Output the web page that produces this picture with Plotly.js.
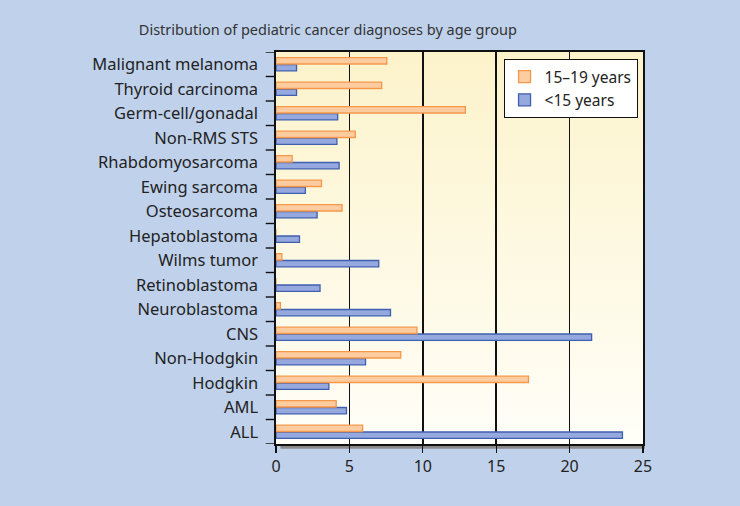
<!DOCTYPE html>
<html><head><meta charset="utf-8">
<script src="https://cdn.plot.ly/plotly-3.0.1.min.js"></script>
<style>html,body{margin:0;padding:0;background:#c0d2eb;}#chart{width:740px;height:506px;}</style>
</head><body><div id="chart"></div>
<script>
const categories = ["ALL","AML","Hodgkin","Non-Hodgkin","CNS","Neuroblastoma","Retinoblastoma","Wilms tumor","Hepatoblastoma","Osteosarcoma","Ewing sarcoma","Rhabdomyosarcoma","Non-RMS STS","Germ-cell/gonadal","Thyroid carcinoma","Malignant melanoma"];
const under15 = [23.6, 4.8, 3.6, 6.1, 21.5, 7.8, 3.0, 7.0, 1.6, 2.8, 2.0, 4.3, 4.15, 4.2, 1.4, 1.4];
const age15to19 = [5.9, 4.1, 17.2, 8.5, 9.6, 0.3, 0, 0.4, 0, 4.5, 3.1, 1.1, 5.4, 12.9, 7.2, 7.55];
const xTicks = [0,5,10,15,20,25];

const gradSvg = '<svg xmlns="http://www.w3.org/2000/svg" width="100" height="100" preserveAspectRatio="none"><defs><linearGradient id="g" x1="0" y1="0" x2="0" y2="1"><stop offset="0" stop-color="#fcf3cb"/><stop offset="1" stop-color="#fffef8"/></linearGradient></defs><rect width="100" height="100" fill="url(#g)"/></svg>';
const gradUri = 'data:image/svg+xml;base64,' + btoa(gradSvg);

// tick marks at category boundaries on the left axis
const tickShapes = [];
for (let i = 0; i <= categories.length; i++) {
  tickShapes.push({type:'line', xref:'paper', yref:'y', x0:-0.028, x1:0, y0:i-0.5, y1:i-0.5,
    line:{color:'#111', width:1.4}, layer:'above'});
}

const traces = [
  {type:'bar', orientation:'h', name:'<15 years', y:categories, x:under15,
   marker:{color:'#95a9de', line:{color:'#3f5fb0', width:1.3}}},
  {type:'bar', orientation:'h', name:'15–19 years', y:categories, x:age15to19,
   marker:{color:'#fdcca0', line:{color:'#f5984a', width:1.3}}}
];
const layout = {
  width:740, height:506,
  paper_bgcolor:'#c0d2eb', plot_bgcolor:'#fcf6d8',
  margin:{l:276, r:97, t:52, b:62},
  font:{family:'Noto Sans, sans-serif', size:14, color:'#222'},
  title:{text:'Distribution of pediatric cancer diagnoses by age group', x:0.443, xref:'container', xanchor:'center', y:1-30/506, yref:'container', yanchor:'middle', font:{size:14.5, color:'#333'}},
  barmode:'group', bargap:0.44, bargroupgap:0.08,
  xaxis:{range:[0,25], tickvals:xTicks, showgrid:true, gridcolor:'#111', gridwidth:1.6, zeroline:false,
    showline:true, linecolor:'#111', linewidth:1.6, mirror:true, ticks:'outside', ticklen:7, tickwidth:1.4, tickcolor:'#111',
    tickfont:{size:16, color:'#222'}},
  yaxis:{type:'category', range:[-0.5, categories.length-0.5], showgrid:false, showline:true, linecolor:'#111', linewidth:1.6, mirror:true,
    ticks:'', ticklabelstandoff:13, tickfont:{size:16.5, color:'#222'}},
  legend:{x:0.62, y:0.982, xanchor:'left', yanchor:'top', bgcolor:'#ffffff', bordercolor:'#111', borderwidth:1,
    traceorder:'reversed', font:{size:15.5, color:'#222'}, itemwidth:30},
  images:[{source:gradUri, xref:'paper', yref:'paper', x:0, y:1, sizex:1, sizey:1, sizing:'stretch', layer:'below'}],
  shapes:[{type:'rect', xref:'paper', yref:'paper', x0:0.012, x1:1.005, y0:-0.012, y1:0, fillcolor:'#8a8a8a', line:{width:0}, layer:'below'}].concat(tickShapes)
};
Plotly.newPlot('chart', traces, layout, {displayModeBar:false, staticPlot:true});
</script></body></html>
